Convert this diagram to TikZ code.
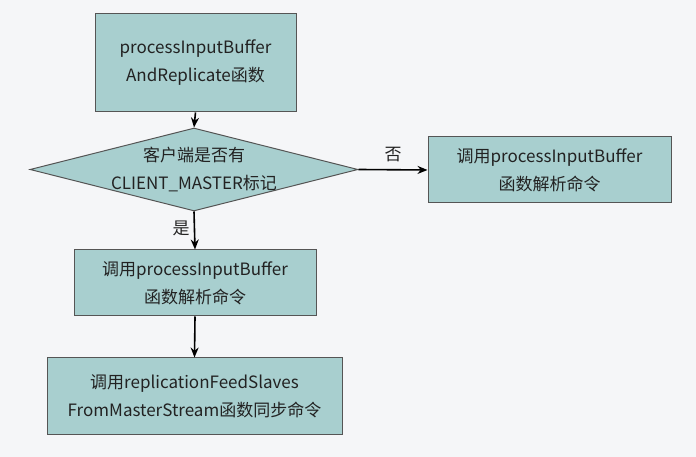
\documentclass[tikz,border=0pt]{standalone}
\usepackage{fontspec}
\setmainfont{Noto Sans CJK SC}
\usetikzlibrary{shapes.geometric,arrows.meta}
\definecolor{bg}{HTML}{F5F6F8}
\definecolor{boxfill}{HTML}{A8CFCF}
\definecolor{boxline}{HTML}{555555}
\definecolor{txt}{HTML}{222222}
\tikzset{
  box/.style={draw=boxline, fill=boxfill, line width=1pt, inner sep=0pt, align=center,
    text=txt, font=\fontsize{17}{28}\selectfont},
  flow/.style={-{Stealth[length=10pt,width=8pt]}, line width=1.6pt, black},
  lbl/.style={text=txt, font=\fontsize{17}{20}\selectfont, inner sep=0pt}
}
\begin{document}
\begin{tikzpicture}[x=1pt,y=1pt]
\fill[bg] (0,0) rectangle (696,457);
\useasboundingbox (0,0) rectangle (696,457);
\node[box, minimum width=201pt, minimum height=98pt] (b1) at (195.5,394) {processInputBuffer\\AndReplicate函数};
\node[box, shape=diamond, aspect=3.95, minimum width=328pt, minimum height=83pt] (d) at (194,287.5) {};
\node[align=center, text=txt, font=\fontsize{17}{28}\selectfont, inner sep=0pt] (dt) at (d.center) {客户端是否有\\CLIENT\_MASTER标记};
\node[box, minimum width=243pt, minimum height=66pt] (r) at (549.5,287) {调用processInputBuffer\\函数解析命令};
\node[box, minimum width=242pt, minimum height=66pt] (b2) at (195,174) {调用processInputBuffer\\函数解析命令};
\node[box, minimum width=295pt, minimum height=77pt] (b3) at (194.5,60.5) {调用replicationFeedSlaves\\FromMasterStream函数同步命令};
\draw[flow] (b1.south) -- (d.north);
\draw[flow] (d.east) -- node[lbl, above=7pt] (no) {否} (r.west);
\draw[flow] (d.south) -- node[lbl, left=4pt, pos=0.45] (yes) {是} (b2.north);
\draw[flow] (b2.south) -- (b3.north);
\end{tikzpicture}
\end{document}
